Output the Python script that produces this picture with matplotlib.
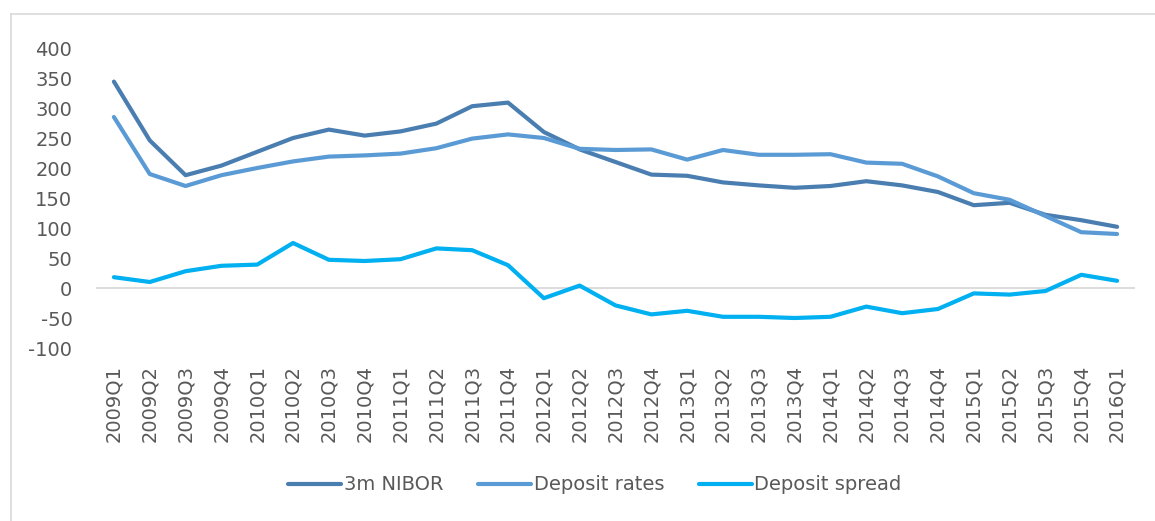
import matplotlib.pyplot as plt
from matplotlib.lines import Line2D

plt.rcParams['axes.unicode_minus'] = False

quarters = [f"{y}Q{q}" for y in range(2009, 2016) for q in range(1, 5)] + ["2016Q1"]

nibor = [344, 246, 188, 204, 227, 250, 264, 254, 261, 274, 303, 309, 260, 231,
         210, 189, 187, 176, 171, 167, 170, 178, 171, 160, 138, 142, 122, 113, 102]
deposit_rates = [285, 190, 170, 188, 200, 211, 219, 221, 224, 233, 249, 256, 250, 232,
                 230, 231, 214, 230, 222, 222, 223, 209, 207, 186, 158, 147, 120, 93, 90]
deposit_spread = [18, 10, 28, 37, 39, 75, 47, 45, 48, 66, 63, 38, -17, 4,
                  -29, -44, -38, -48, -48, -50, -48, -31, -42, -35, -9, -11, -5, 22, 12]

W, H = 1155, 521
fig = plt.figure(figsize=(W / 100, H / 100), dpi=100)
ax = fig.add_axes([96 / W, 1 - 348 / H, (1135 - 96) / W, 300 / H])

txt = "#595959"
x = range(len(quarters))
ax.plot(x, nibor, color="#4A7EB1", lw=3, label="3m NIBOR", solid_capstyle="round")
ax.plot(x, deposit_rates, color="#5B9BD5", lw=3, label="Deposit rates", solid_capstyle="round")
ax.plot(x, deposit_spread, color="#00B0F0", lw=3, label="Deposit spread", solid_capstyle="round")

ax.axhline(0, color="#d9d9d9", lw=1.3, zorder=0)
ax.set_xlim(-0.5, len(quarters) - 0.5)
ax.set_ylim(-100, 400)
ax.set_yticks(range(-100, 401, 50))
ax.set_xticks(list(x))
ax.set_xticklabels(quarters, rotation=90)
ax.tick_params(axis="both", length=0, labelsize=14, colors=txt)
ax.tick_params(axis="y", pad=17)
ax.tick_params(axis="x", pad=12)
for s in ax.spines.values():
    s.set_visible(False)

leg = fig.legend(loc="center", bbox_to_anchor=(595 / W, 1 - 485 / H), ncol=3,
                 frameon=False, fontsize=14, handlelength=2.7, handletextpad=0.15,
                 columnspacing=1.8)
for t in leg.get_texts():
    t.set_color(txt)

# outer chart border
fig.add_artist(Line2D([10.5 / W, 1], [1 - 13.5 / H, 1 - 13.5 / H], color="#d9d9d9", lw=1.2))
fig.add_artist(Line2D([10.5 / W, 10.5 / W], [0, 1 - 13.5 / H], color="#d9d9d9", lw=1.2))

fig.savefig("out.png", dpi=100)
